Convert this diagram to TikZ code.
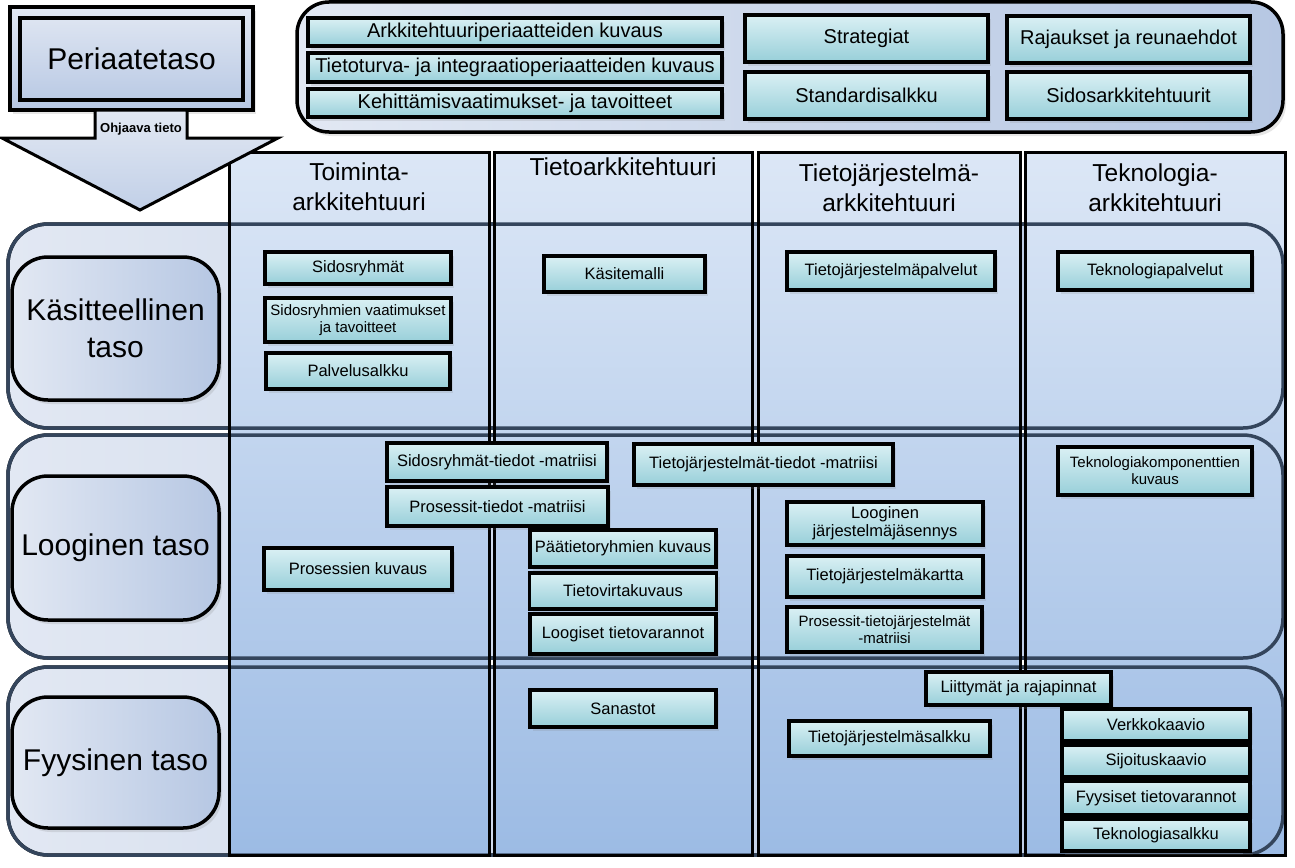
\documentclass[tikz,border=0pt]{standalone}
\usepackage{fontspec}
\setmainfont{Liberation Sans}
\usetikzlibrary{shadows}

\definecolor{boxtop}{HTML}{DAF0F4}
\definecolor{boxbot}{HTML}{98CFD9}
\definecolor{coltop}{HTML}{DCE7F6}
\definecolor{colbot}{HTML}{9CBBE4}
\definecolor{bandl}{HTML}{E2E8F3}
\definecolor{bandr}{HTML}{B6C7E3}
\definecolor{edge}{HTML}{34455C}

\begin{document}
\begin{tikzpicture}[x=1pt,y=-1pt,outer sep=0pt,
    item/.style={draw,line width=3.5pt,top color=boxtop,bottom color=boxbot,
      inner sep=1pt,align=center,font=\fontsize{16.5}{18}\selectfont,
      drop shadow={shadow xshift=3pt,shadow yshift=-4pt,opacity=.18}},
    pair/.style={item,font=\fontsize{15}{17}\selectfont},
    topitem/.style={item,font=\fontsize{20}{22}\selectfont},
    band/.style={draw,line width=3.5pt,rounded corners=40pt,
      left color=bandl,right color=bandr},
    bandline/.style={draw=edge,line width=3.5pt,rounded corners=40pt},
    column/.style={top color=coltop,bottom color=colbot},
    colline/.style={draw,line width=3pt},
    level/.style={draw,line width=3.5pt,rounded corners=36pt,left color=bandl,
      right color=bandr,align=center,font=\fontsize{30}{37}\selectfont,
      drop shadow={shadow xshift=3pt,shadow yshift=-4pt,opacity=.2}},
    head/.style={align=center,font=\fontsize{24.5}{30}\selectfont}]
  \useasboundingbox (0,0) rectangle (1295,867);

  % tasot
  \node[band,minimum width=1275pt,minimum height=204pt] (r1) at (645.5,326) {};
  \node[band,minimum width=1275pt,minimum height=223pt] (r2) at (645.5,546.5) {};
  \node[band,minimum width=1275pt,minimum height=188pt] (r3) at (645.5,761) {};

  % arkkitehtuurit
  \node[column,minimum width=260pt,minimum height=703pt] (c1) at (359,503.5) {};
  \node[column,minimum width=258pt,minimum height=703pt] (c2) at (623,503.5) {};
  \node[column,minimum width=262pt,minimum height=703pt] (c3) at (889,503.5) {};
  \node[column,minimum width=260pt,minimum height=703pt] (c4) at (1155,503.5) {};
  \foreach \r in {r1,r2,r3}
    \draw[bandline] (\r.north west) rectangle (\r.south east);
  \foreach \c in {c1,c2,c3,c4}
    \draw[colline] (\c.north west) rectangle (\c.south east);

  \node[head] (h1) at (359,187) {Toiminta-\\arkkitehtuuri};
  \node[head] (h2) at (623,167) {Tietoarkkitehtuuri};
  \node[head] (h3) at (889,188) {Tietojärjestelmä-\\arkkitehtuuri};
  \node[head] (h4) at (1155,188) {Teknologia-\\arkkitehtuuri};

  \node[level,minimum width=207pt,minimum height=143pt] (kas) at (115.5,328.5) {Käsitteellinen\\taso};
  \node[level,minimum width=207pt,minimum height=144pt] (loog) at (115.5,548) {Looginen taso};
  \node[level,minimum width=207pt,minimum height=131pt] (fyys) at (115.5,762.5) {Fyysinen taso};

  % periaatetaso
  \node[draw,line width=4pt,top color=bandl,bottom color=bandr,
    minimum width=243pt,minimum height=103pt,
    drop shadow={shadow xshift=3pt,shadow yshift=-4pt,opacity=.2}] (peri) at (131.5,58.5) {};
  \node[draw,line width=3.5pt,minimum width=223pt,minimum height=82pt,
    font=\fontsize{30}{36}\selectfont] (peritxt) at (131.5,59) {Periaatetaso};
  \draw[line width=3pt,top color=bandl,bottom color=bandr!85!white]
    (95,110) -- (187,110) -- (187,138) -- (278,138) -- (140,210)
    -- (2,138) -- (95,138) -- cycle;
  \node[font=\bfseries\fontsize{13}{15}\selectfont] (ohj) at (141,129) {Ohjaava tieto};

  \node[band,rounded corners=32pt,minimum width=986pt,minimum height=130pt,
    drop shadow={shadow xshift=3pt,shadow yshift=-4pt,opacity=.2}] (top) at (790,67) {};
  \node[topitem,minimum width=414pt,minimum height=28pt] (arkper) at (515,32) {Arkkitehtuuriperiaatteiden kuvaus};
  \node[topitem,minimum width=414pt,minimum height=29pt] (turva) at (515,67.5) {Tietoturva- ja integraatioperiaatteiden kuvaus};
  \node[topitem,minimum width=414pt,minimum height=28pt] (kehit) at (515,103) {Kehittämisvaatimukset- ja tavoitteet};
  \node[topitem,minimum width=243pt,minimum height=47pt] (strat) at (866.5,38.5) {Strategiat};
  \node[topitem,minimum width=243pt,minimum height=47pt] (stand) at (866.5,95.5) {Standardisalkku};
  \node[topitem,minimum width=243pt,minimum height=47pt] (rajau) at (1128.5,39.5) {Rajaukset ja reunaehdot};
  \node[topitem,minimum width=243pt,minimum height=47pt] (sidark) at (1128.5,95.5) {Sidosarkkitehtuurit};

  % toiminta
  \node[item,minimum width=186pt,minimum height=32pt] (sidos) at (358,268) {Sidosryhmät};
  \node[pair,minimum width=186pt,minimum height=44pt] (sidvaat) at (358,320) {Sidosryhmien vaatimukset\\ja tavoitteet};
  \node[item,minimum width=184pt,minimum height=36pt] (palv) at (358,371) {Palvelusalkku};
  \node[item,minimum width=188pt,minimum height=42pt] (proskuv) at (358,569) {Prosessien kuvaus};

  % tieto
  \node[item,minimum width=161pt,minimum height=36pt] (kasite) at (624.5,274) {Käsitemalli};
  \node[item,minimum width=220pt,minimum height=38pt] (sidmat) at (497,462) {Sidosryhmät-tiedot -matriisi};
  \node[item,minimum width=221pt,minimum height=39pt] (prosmat) at (497.5,506.5) {Prosessit-tiedot -matriisi};
  \node[item,minimum width=186pt,minimum height=37pt] (paatieto) at (623,548.5) {Päätietoryhmien kuvaus};
  \node[item,minimum width=187pt,minimum height=36pt] (virta) at (623,591) {Tietovirtakuvaus};
  \node[item,minimum width=186pt,minimum height=40pt] (loogtv) at (623,634) {Loogiset tietovarannot};
  \node[item,minimum width=186pt,minimum height=37pt] (sanast) at (623,708.5) {Sanastot};

  % tietojarjestelma
  \node[item,minimum width=208pt,minimum height=38pt] (tjpalv) at (891,271) {Tietojärjestelmäpalvelut};
  \node[item,minimum width=259pt,minimum height=41pt] (tjmat) at (763.5,464.5) {Tietojärjestelmät-tiedot -matriisi};
  \node[item,minimum width=196pt,minimum height=43pt] (loogjas) at (885,523.5) {Looginen\\järjestelmäjäsennys};
  \node[item,minimum width=196pt,minimum height=41pt] (tjkart) at (885,576.5) {Tietojärjestelmäkartta};
  \node[pair,minimum width=195pt,minimum height=45pt] (prostj) at (884.5,629.5) {Prosessit-tietojärjestelmät\\-matriisi};
  \node[item,minimum width=201pt,minimum height=35pt] (tjsalk) at (889.5,738.5) {Tietojärjestelmäsalkku};
  \node[item,minimum width=185pt,minimum height=33pt] (liitt) at (1018.5,688.5) {Liittymät ja rajapinnat};

  % teknologia
  \node[item,minimum width=194pt,minimum height=38pt] (tekpalv) at (1155,271) {Teknologiapalvelut};
  \node[pair,minimum width=194pt,minimum height=48pt] (tekkomp) at (1155,471) {Teknologiakomponenttien\\kuvaus};
  \node[item,minimum width=188pt,minimum height=32pt] (verkko) at (1156,725) {Verkkokaavio};
  \node[item,minimum width=188pt,minimum height=32pt] (sijoit) at (1156,761) {Sijoituskaavio};
  \node[item,minimum width=188pt,minimum height=34pt] (fyystv) at (1156,798) {Fyysiset tietovarannot};
  \node[item,minimum width=188pt,minimum height=32pt] (teksalk) at (1156,835) {Teknologiasalkku};
\end{tikzpicture}
\end{document}
